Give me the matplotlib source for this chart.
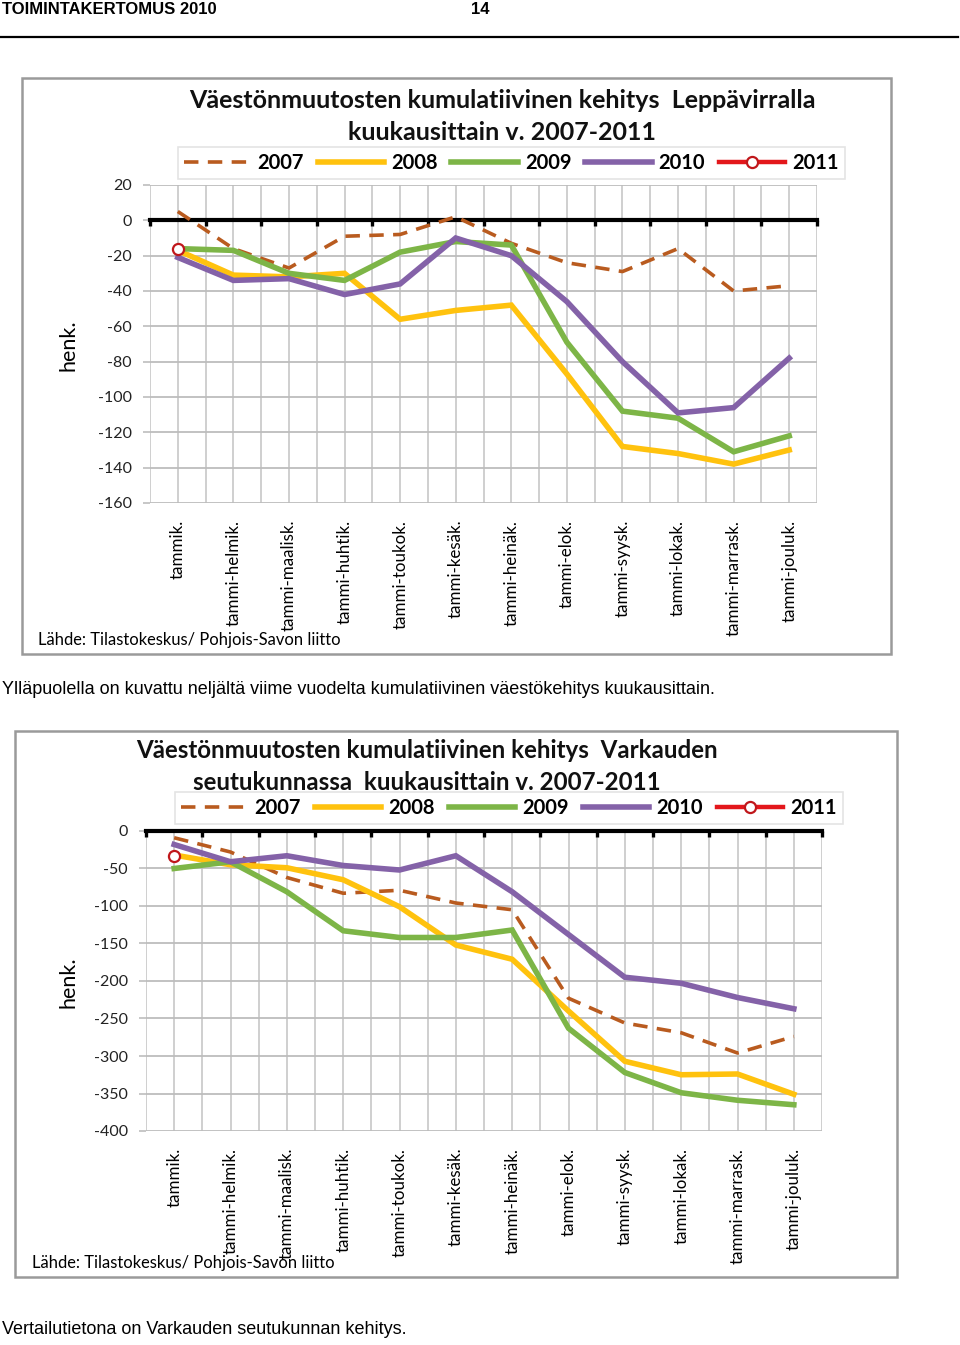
import matplotlib
matplotlib.use('Agg')
import matplotlib.pyplot as plt
from matplotlib.patches import Rectangle
from matplotlib.lines import Line2D

W, H = 960, 1345

months = ['tammik.', 'tammi-helmik.', 'tammi-maalisk.', 'tammi-huhtik.',
          'tammi-toukok.', 'tammi-kesäk.', 'tammi-heinäk.', 'tammi-elok.',
          'tammi-syysk.', 'tammi-lokak.', 'tammi-marrask.', 'tammi-jouluk.']
years = ['2007', '2008', '2009', '2010', '2011']

# Leppävirta
lepp_2007 = [5, -16, -27, -9, -8, 2, -13, -24, -29, -16, -40, -37]
lepp_2008 = [-17, -31, -32, -30, -56, -51, -48, -87, -128, -132, -138, -130]
lepp_2009 = [-16, -17, -30, -34, -18, -12, -14, -69, -108, -112, -131, -122]
lepp_2010 = [-21, -34, -33, -42, -36, -10, -20, -46, -80, -109, -106, -78]
lepp_2011 = [-16]
lepp_yticks = [20, 0, -20, -40, -60, -80, -100, -120, -140, -160]

# Varkauden seutukunta
vark_2007 = [-9, -28, -62, -83, -79, -96, -105, -223, -256, -269, -296, -274]
vark_2008 = [-32, -45, -49, -65, -101, -152, -171, -240, -307, -325, -324, -351]
vark_2009 = [-50, -41, -81, -133, -142, -142, -132, -263, -322, -349, -359, -365]
vark_2010 = [-18, -41, -33, -46, -52, -33, -81, -138, -195, -203, -222, -237]
vark_2011 = [-34]
vark_yticks = [0, -50, -100, -150, -200, -250, -300, -350, -400]

title_lepp = ['Väestönmuutosten kumulatiivinen kehitys  Leppävirralla',
              'kuukausittain v. 2007-2011']
title_vark = ['Väestönmuutosten kumulatiivinen kehitys  Varkauden',
              'seutukunnassa  kuukausittain v. 2007-2011']
source = 'Lähde: Tilastokeskus/ Pohjois-Savon liitto'
caption1 = 'Ylläpuolella on kuvattu neljältä viime vuodelta kumulatiivinen väestökehitys kuukausittain.'
caption2 = 'Vertailutietona on Varkauden seutukunnan kehitys.'

colors = {'2007': '#B95B1F', '2008': '#FFC20E', '2009': '#7DB547',
          '2010': '#8462A8', '2011': '#E3171B'}

CF = ['Lato', 'DejaVu Sans']
NF = ['Liberation Sans Narrow', 'Liberation Sans', 'DejaVu Sans']

fig = plt.figure(figsize=(W / 100, H / 100), dpi=100)
fig.patch.set_facecolor('white')


def fx(x):
    return x / W


def fy(y):
    return 1 - y / H


def rect(x0, y0, x1, y1):
    return [fx(x0), fy(y1), (x1 - x0) / W, (y1 - y0) / H]


# Page header
fig.text(fx(2), fy(10), 'TOIMINTAKERTOMUS 2010', family=NF, fontsize=12,
         fontweight='bold', ha='left', va='center')
fig.text(fx(480), fy(10), '14', family=NF, fontsize=12, fontweight='bold',
         ha='center', va='center')
fig.add_artist(Line2D([0, fx(958)], [fy(37), fy(37)], color='black', lw=1.6))


def chart(box, plot, series, yticks, titles, title_ys, title_cx, title_size,
          legend_box, ylabel_xy, source_xy):
    bx0, by0, bx1, by1 = box
    fig.add_artist(Rectangle((fx(bx0), fy(by1)), (bx1 - bx0) / W, (by1 - by0) / H,
                             transform=fig.transFigure, fill=False,
                             edgecolor='#9a9a9a', lw=1.8))
    for t, ty in zip(titles, title_ys):
        fig.text(fx(title_cx), fy(ty), t, family=CF, fontsize=title_size,
                 fontweight='bold', ha='center', va='center', color='#111111')

    ax = fig.add_axes(rect(*plot))
    x = list(range(12))
    handles = []
    for yr, vals in series:
        xs = x[:len(vals)]
        if yr == '2007':
            ln, = ax.plot(xs, vals, color=colors[yr], lw=2.6, zorder=3,
                          dashes=[4.0, 2.6], solid_capstyle='butt')
        elif yr == '2011':
            ln, = ax.plot(xs, vals, color=colors[yr], lw=3.2, zorder=4,
                          marker='o', ms=8, mfc='white', mec='#C0171B', mew=1.6)
        else:
            ln, = ax.plot(xs, vals, color=colors[yr], lw=4.0, zorder=3,
                          solid_joinstyle='miter')
        handles.append(ln)

    ax.set_xlim(-0.5, 11.5)
    ax.set_ylim(min(yticks), max(yticks))
    bounds = [i - 0.5 for i in range(13)]
    ax.set_xticks(bounds)
    ax.set_xticks(x, minor=True)
    ax.set_xticklabels([])
    ax.grid(True, which='both', axis='x', color='#cccccc', lw=1.3)
    ax.grid(True, which='major', axis='y', color='#bdbdbd', lw=1.3)
    ax.set_axisbelow(True)
    for s in ['top', 'right', 'left']:
        ax.spines[s].set_visible(False)
    ax.spines['bottom'].set_position(('data', 0))
    ax.spines['bottom'].set_linewidth(3.0)
    ax.spines['bottom'].set_zorder(2.6)
    ax.tick_params(axis='x', which='major', direction='out', length=4, width=2.4,
                   color='black')
    ax.tick_params(axis='x', which='minor', length=0)
    ax.set_yticks(yticks, labels=[str(v) for v in yticks])
    ax.tick_params(axis='y', length=5, width=1.2, color='#bdbdbd', pad=8,
                   labelsize=11.5)
    for lab in ax.get_yticklabels():
        lab.set_family(CF)
        lab.set_color('#222222')

    sec = ax.secondary_xaxis('bottom')
    sec.set_xticks(x, labels=months, rotation=90)
    sec.tick_params(length=0, pad=12, labelsize=12.2)
    sec.spines['bottom'].set_visible(False)
    for lab in sec.get_xticklabels():
        lab.set_family(CF)
        lab.set_va('top')

    lx0, ly0, lx1, ly1 = legend_box
    leg = fig.legend(handles, years, loc='center', ncol=5, mode='expand',
                     bbox_to_anchor=(fx(lx0), fy(ly1), (lx1 - lx0) / W, (ly1 - ly0) / H),
                     bbox_transform=fig.transFigure, frameon=True, fancybox=False,
                     edgecolor='#dddddd', borderaxespad=0, handlelength=3.3,
                     handletextpad=0.35, columnspacing=1.0, borderpad=0.3,
                     prop={'family': CF, 'weight': 'bold', 'size': 14.5})
    leg.get_frame().set_linewidth(1.2)

    fig.text(fx(ylabel_xy[0]), fy(ylabel_xy[1]), 'henk.', family=CF, fontsize=15.5,
             rotation=90, ha='center', va='center')
    fig.text(fx(source_xy[0]), fy(source_xy[1]), source, family=CF, fontsize=11.9,
             ha='left', va='center')
    return ax


chart(box=(22, 78, 891, 654), plot=(150, 185, 817, 503),
      series=[('2007', lepp_2007), ('2008', lepp_2008), ('2009', lepp_2009),
              ('2010', lepp_2010), ('2011', lepp_2011)],
      yticks=lepp_yticks, titles=title_lepp, title_ys=(101, 133), title_cx=502,
      title_size=18.0,
      legend_box=(178, 147, 845, 179), ylabel_xy=(68, 345), source_xy=(38, 640))

fig.text(fx(2), fy(689), caption1, family=NF, fontsize=13, ha='left', va='center')

chart(box=(15, 731, 897, 1277), plot=(146, 831, 822, 1131),
      series=[('2007', vark_2007), ('2008', vark_2008), ('2009', vark_2009),
              ('2010', vark_2010), ('2011', vark_2011)],
      yticks=vark_yticks, titles=title_vark, title_ys=(750, 782), title_cx=427,
      title_size=17.4,
      legend_box=(175, 793, 843, 823), ylabel_xy=(68, 982), source_xy=(32, 1263))

fig.text(fx(2), fy(1330), caption2, family=NF, fontsize=13, ha='left', va='center')

fig.savefig('out.png', dpi=100, facecolor='white')
